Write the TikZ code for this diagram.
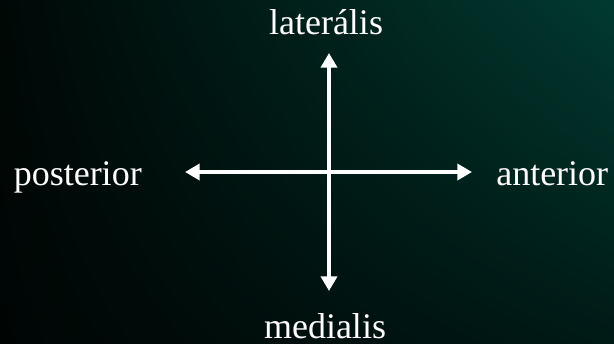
\documentclass[tikz,border=0pt]{standalone}
\usepackage{fontspec}
\setmainfont{Liberation Serif}
\usetikzlibrary{arrows.meta,shadings}
\definecolor{bgul}{RGB}{0,8,6}
\definecolor{bgur}{RGB}{1,58,48}
\definecolor{bgll}{RGB}{0,5,4}
\definecolor{bglr}{RGB}{0,26,22}
\tikzset{
	axis/.style={white, line width=3pt, {Triangle[length=11pt,width=12pt]}-{Triangle[length=11pt,width=12pt]}},
	dirlabel/.style={white, anchor=base, inner sep=0pt, font=\fontsize{27}{32}\selectfont}
}
\begin{document}
\begin{tikzpicture}[x=0.75pt, y=-0.75pt]
	\useasboundingbox (0,0) rectangle (614,343);
	\shade[upper left=bgul, upper right=bgur, lower left=bgll, lower right=bglr] (0,0) rectangle (614,343);
	% arrow ends
	\coordinate (lat) at (329,53);
	\coordinate (med) at (329,291);
	\coordinate (post) at (185,172);
	\coordinate (ant) at (472,172);
	\draw[axis] (med) -- (lat);
	\draw[axis] (post) -- (ant);
	% labels
	\node[dirlabel] (latlabel) at (326,34) {laterális};
	\node[dirlabel] (medlabel) at (325,338) {medialis};
	\node[dirlabel, anchor=base west] (antlabel) at (496,185) {anterior};
	\node[dirlabel, anchor=base east] (postlabel) at (142,185) {posterior};
\end{tikzpicture}
\end{document}
